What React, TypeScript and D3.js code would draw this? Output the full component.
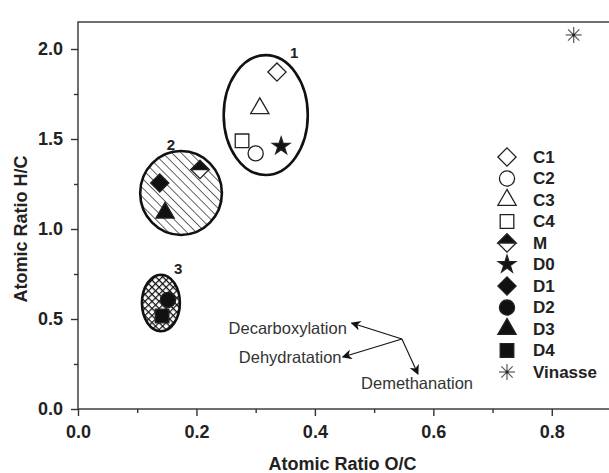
import React, { useEffect, useRef } from 'react';
import * as d3 from 'd3';

// samples, in legend order
const samples = ['C1', 'C2', 'C3', 'C4', 'M', 'D0', 'D1', 'D2', 'D3', 'D4', 'Vinasse'];
const ratioOC = [0.336, 0.300, 0.307, 0.277, 0.206, 0.343, 0.138, 0.152, 0.147, 0.142, 0.837];
const ratioHC = [1.872, 1.420, 1.670, 1.490, 1.330, 1.460, 1.256, 0.606, 1.090, 0.517, 2.078];
const shapes = ['diamond', 'circle', 'triangle', 'square', 'half', 'star', 'diamond', 'circle', 'triangle', 'square', 'asterisk'];
const filled = [false, false, false, false, false, true, true, true, true, true, false];

// grouping ellipses (data units)
const groupLabels = ['1', '2', '3'];
const groupCx = [0.317, 0.174, 0.140];
const groupCy = [1.633, 1.200, 0.589];
const groupRx = [0.071, 0.069, 0.032];
const groupRy = [0.333, 0.233, 0.157];
const groupFill = ['none', 'url(#hatch)', 'url(#cross)'];
const labelX = [0.365, 0.157, 0.169];
const labelY = [1.983, 1.467, 0.783];

// reaction arrows
const arrowFrom = [0.547, 0.389];
const reactions = ['Decarboxylation', 'Dehydratation', 'Demethanation'];
const arrowToX = [0.462, 0.447, 0.574];
const arrowToY = [0.478, 0.289, 0.194];
const textX = [0.454, 0.445, 0.478];
const textY = [0.450, 0.289, 0.144];
const textAnchor = ['end', 'end', 'start'];

const xMajor = [0, 0.2, 0.4, 0.6, 0.8];
const xMinor = [0.1, 0.3, 0.5, 0.7];
const yMajor = [0, 0.5, 1.0, 1.5, 2.0];
const yMinor = [0.25, 0.75, 1.25, 1.75];

const font = '"Liberation Sans", Arial, sans-serif';
const ink = '#222';

function drawMarker(g: any, shape: string, isFilled: boolean) {
  const fill = isFilled ? '#111' : '#fff';
  const sw = 1.3;
  if (shape === 'diamond' || shape === 'half') {
    g.append('path')
      .attr('d', d3.symbol(d3.symbolSquare, 165)())
      .attr('transform', 'rotate(45)')
      .attr('fill', fill)
      .attr('stroke', ink)
      .attr('stroke-width', sw);
    if (shape === 'half') {
      const r = Math.sqrt(165) / Math.SQRT2;
      g.append('path')
        .attr('d', `M${-r},0L0,${-r}L${r},0Z`)
        .attr('fill', '#111')
        .attr('stroke', ink)
        .attr('stroke-width', sw);
    }
  } else if (shape === 'asterisk') {
    const r = 8;
    [0, 45, 90, 135].forEach(a => {
      g.append('line')
        .attr('x1', -r).attr('x2', r).attr('y1', 0).attr('y2', 0)
        .attr('transform', `rotate(${a})`)
        .attr('stroke', '#555')
        .attr('stroke-width', 1.2);
    });
    g.append('circle').attr('r', 1.5).attr('fill', '#222');
  } else {
    const type = shape === 'circle' ? d3.symbolCircle
      : shape === 'triangle' ? d3.symbolTriangle
      : shape === 'square' ? d3.symbolSquare
      : d3.symbolStar;
    const size = shape === 'circle' ? 180 : shape === 'triangle' ? 145 : shape === 'square' ? 185 : 95;
    g.append('path')
      .attr('d', d3.symbol(type, size)())
      .attr('fill', fill)
      .attr('stroke', ink)
      .attr('stroke-width', sw);
  }
}

const App = () => {
  const ref = useRef<SVGSVGElement>(null);

  useEffect(() => {
    const width = 609;
    const height = 473;
    const svg = d3.select(ref.current);
    svg.selectAll('*').remove();

    const x = d3.scaleLinear().domain([0, 0.9]).range([78, 611]);
    const y = d3.scaleLinear().domain([0, 2.15]).range([409, 22]);

    const defs = svg.append('defs');
    const hatch = defs.append('pattern')
      .attr('id', 'hatch')
      .attr('patternUnits', 'userSpaceOnUse')
      .attr('width', 6.5).attr('height', 6.5)
      .attr('patternTransform', 'rotate(-45)');
    hatch.append('rect').attr('width', 6.5).attr('height', 6.5).attr('fill', '#fff');
    hatch.append('line').attr('x1', 0).attr('x2', 0).attr('y1', 0).attr('y2', 6.5)
      .attr('stroke', '#111').attr('stroke-width', 1.3);

    const cross = defs.append('pattern')
      .attr('id', 'cross')
      .attr('patternUnits', 'userSpaceOnUse')
      .attr('width', 5).attr('height', 5)
      .attr('patternTransform', 'rotate(45)');
    cross.append('rect').attr('width', 5).attr('height', 5).attr('fill', '#fff');
    cross.append('path').attr('d', 'M0,0H5M0,0V5')
      .attr('stroke', '#111').attr('stroke-width', 2.4);

    defs.append('marker')
      .attr('id', 'head')
      .attr('viewBox', '0 0 10 10')
      .attr('refX', 9).attr('refY', 5)
      .attr('markerWidth', 10).attr('markerHeight', 10)
      .attr('markerUnits', 'userSpaceOnUse')
      .attr('orient', 'auto')
      .append('path').attr('d', 'M0,0L10,5L0,10L3,5Z').attr('fill', '#111');

    svg.append('rect').attr('width', width).attr('height', height).attr('fill', '#fff');

    // frame (right side falls outside the picture)
    svg.append('rect')
      .attr('x', x(0)).attr('y', y(2.15))
      .attr('width', x(0.9) - x(0)).attr('height', y(0) - y(2.15))
      .attr('fill', 'none').attr('stroke', '#333').attr('stroke-width', 1.4);

    const styleAxis = (g: any) => {
      g.select('.domain').remove();
      g.selectAll('line').attr('stroke', '#333').attr('stroke-width', 1.4);
      g.selectAll('text')
        .attr('font-family', font).attr('font-weight', 'bold')
        .attr('font-size', 18).attr('fill', ink);
    };

    svg.append('g')
      .attr('transform', `translate(0,${y(0)})`)
      .call(d3.axisBottom(x).tickValues(xMajor).tickSize(7).tickPadding(9).tickFormat(d3.format('.1f')))
      .call(styleAxis);
    svg.append('g')
      .attr('transform', `translate(0,${y(0)})`)
      .call(d3.axisBottom(x).tickValues(xMinor).tickSize(4).tickFormat(() => ''))
      .call(styleAxis);
    svg.append('g')
      .attr('transform', `translate(${x(0)},0)`)
      .call(d3.axisLeft(y).tickValues(yMajor).tickSize(7).tickPadding(8).tickFormat(d3.format('.1f')))
      .call(styleAxis);
    svg.append('g')
      .attr('transform', `translate(${x(0)},0)`)
      .call(d3.axisLeft(y).tickValues(yMinor).tickSize(4).tickFormat(() => ''))
      .call(styleAxis);

    svg.append('text')
      .attr('x', (x(0) + x(0.9)) / 2 - 2).attr('y', 470)
      .attr('text-anchor', 'middle')
      .attr('font-family', font).attr('font-weight', 'bold').attr('font-size', 18).attr('fill', ink)
      .text('Atomic Ratio O/C');
    svg.append('text')
      .attr('transform', `translate(27,${y(1.0)}) rotate(-90)`)
      .attr('text-anchor', 'middle')
      .attr('font-family', font).attr('font-weight', 'bold').attr('font-size', 18).attr('fill', ink)
      .text('Atomic Ratio H/C');

    // grouping ellipses
    groupLabels.forEach((lab, i) => {
      svg.append('ellipse')
        .attr('cx', x(groupCx[i])).attr('cy', y(groupCy[i]))
        .attr('rx', x(groupRx[i]) - x(0)).attr('ry', y(0) - y(groupRy[i]))
        .attr('fill', groupFill[i])
        .attr('stroke', '#111').attr('stroke-width', 2.6);
      svg.append('text')
        .attr('x', x(labelX[i])).attr('y', y(labelY[i]))
        .attr('text-anchor', 'middle').attr('dominant-baseline', 'central')
        .attr('font-family', font).attr('font-weight', 'bold').attr('font-size', 15).attr('fill', ink)
        .text(lab);
    });

    // data points
    samples.forEach((s, i) => {
      const g = svg.append('g').attr('transform', `translate(${x(ratioOC[i])},${y(ratioHC[i])})`);
      drawMarker(g, shapes[i], filled[i]);
    });

    // reaction arrows
    reactions.forEach((r, i) => {
      svg.append('line')
        .attr('x1', x(arrowFrom[0])).attr('y1', y(arrowFrom[1]))
        .attr('x2', x(arrowToX[i])).attr('y2', y(arrowToY[i]))
        .attr('stroke', '#111').attr('stroke-width', 1.1)
        .attr('marker-end', 'url(#head)');
      svg.append('text')
        .attr('x', x(textX[i])).attr('y', y(textY[i]))
        .attr('text-anchor', textAnchor[i]).attr('dominant-baseline', 'central')
        .attr('font-family', font).attr('font-size', 16.5).attr('fill', '#333')
        .text(r);
    });

    // legend
    const legend = svg.append('g').attr('transform', 'translate(507,157)');
    samples.forEach((s, i) => {
      const row = legend.append('g').attr('transform', `translate(0,${i * 21.5})`);
      drawMarker(row, shapes[i], filled[i]);
      row.append('text')
        .attr('x', 26).attr('y', 0)
        .attr('dominant-baseline', 'central')
        .attr('font-family', font).attr('font-weight', 'bold').attr('font-size', 17).attr('fill', ink)
        .text(s);
    });
  }, []);

  return (
    <svg ref={ref} width={609} height={473} style={{ position: 'absolute', left: 0, top: 0 }} />
  );
};

export default App;
